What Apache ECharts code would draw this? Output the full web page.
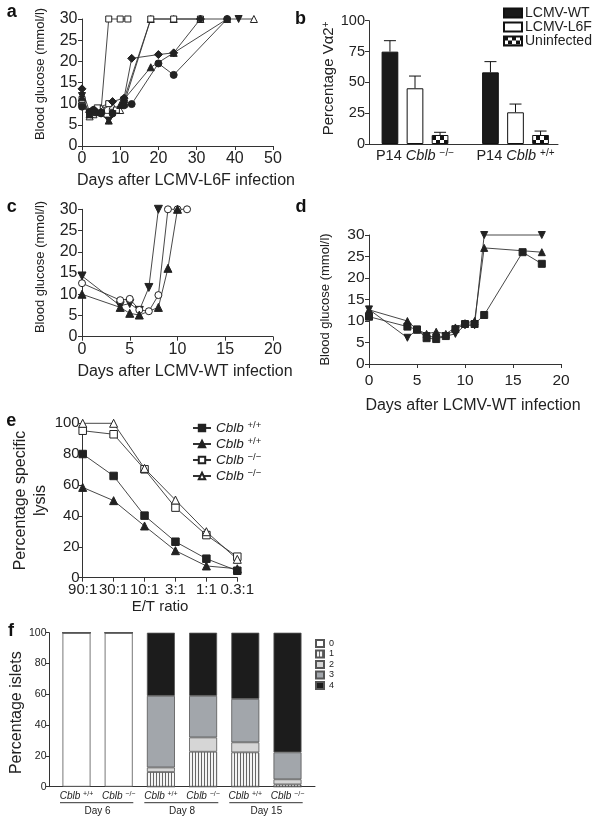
<!DOCTYPE html>
<html><head><meta charset="utf-8">
<script src="https://cdn.jsdelivr.net/npm/echarts/dist/echarts.min.js"></script>
<style>html,body{margin:0;padding:0;background:#fff}#c{width:600px;height:823px}</style>
</head><body><div id="c"></div>
<script>
// ---------- DATA ----------
// Panel a: blood glucose (mmol/l) vs days after LCMV-L6F infection, [day, value]
const aOpenSquareEarly = [[0,10],[2,7.5],[3,7.8],[5,8.5],[7,30],[10,30],[12,30]];
const aOpenTriangle    = [[0,10.5],[2,7],[3,7.5],[5,9],[8,9.5],[10,8.5],[11,10],[18,30],[24,30],[31,30],[45,30]];
const aOpenSquareLate  = [[0,11],[2,7.5],[4,9],[7,10],[9,8.5],[11,11],[18,30],[24,30],[31,30]];
const aFilledDiamond   = [[0,13.5],[2,8],[3,8.5],[5,8],[8,10.5],[11,11.3],[13,20.7],[20,21.6],[24,22],[31,30]];
const aFilledTriangle  = [[0,11.5],[2,7.5],[4,8],[7,6],[10,9.7],[11,11],[18,18.6],[24,22],[38,30]];
const aFilledCircle    = [[0,9.3],[2,8],[3,8.5],[5,7.7],[8,7.7],[11,9.6],[13,9.9],[20,19.5],[24,16.8],[38,30]];
const aFilledInvTri    = [[0,11.8],[2,7.5],[3,8],[5,7.7],[7,6],[8,7.5],[11,10],[12,'-'],[41,30]];

// Panel b: percentage Va2+
const bGenotypes = ['−/−', '+/+'];
const bWT      = [74.9, 58.1];
const bWTErr   = [8.9, 8.7];
const bL6F     = [45.2, 25.7];
const bL6FErr  = [9.9, 6.7];
const bUninf   = [7.3, 7.3];
const bUninfErr= [2.2, 3.2];

// Panel c: blood glucose vs days after LCMV-WT infection
const cFilledInvTri = [[0,14.3],[4,7.3],[5,7.8],[6,6.2],[7,11.6],[8,30]];
const cOpenCircle   = [[0,12.6],[4,8.6],[5,8.9],[6,6.3],[7,6],[8,9.8],[9,30],[10,30],[11,30]];
const cFilledTriangle = [[0,10],[4,6.9],[5,5.5],[6,5.1],[8,6.9],[9,16.1],[10,30]];

// Panel d
const dFilledInvTri = [[0,12.7],[4,6.1],[5,8],[6,6.5],[7,6.2],[8,6.5],[9,7],[10,9],[11,9],[12,30],[18,30]];
const dFilledTriangle = [[0,12.6],[4,10],[5,8],[6,7],[7,7.5],[8,7],[9,8.5],[10,9.5],[11,10],[12,27],[18,26]];
const dFilledSquare = [[0,11],[4,8.7],[5,8],[6,6],[7,5.8],[8,6.5],[9,8.1],[10,9.3],[11,9.3],[12,11.4],[16,26],[18,23.3]];

// Panel e: percentage specific lysis vs E/T ratio
const eRatios = ['90:1','30:1','10:1','3:1','1:1','0.3:1'];
const eWT1 = [80.1,65.9,40.2,23.3,12.3,4.5];
const eWT2 = [58.5,49.9,33.5,17.5,7.6,5.8];
const eKO1 = [95.2,92.9,70.2,45.4,27.6,13.6];
const eKO2 = [100,100,70.8,50.3,29.8,11.9];
const eGenotypes = {eWT1:'+/+', eWT2:'+/+', eKO1:'−/−', eKO2:'−/−'};

// Panel f: percentage islets by insulitis score
const fBars = ['d6wt','d6ko','d8wt','d8ko','d15wt','d15ko'];
const fGenotypes = ['+/+','−/−','+/+','−/−','+/+','−/−'];
const fDays = ['Day 6','Day 8','Day 15'];
const fScore0 = [100,100,0,0,0,0];
const fScore1 = [0,0,9.5,22.7,22.3,1.5];
const fScore2 = [0,0,3,9.3,6.5,3.3];
const fScore3 = [0,0,46.5,27,28.2,17.5];
const fScore4 = [0,0,41,41,43,77.7];

// ---------- STYLE ----------
const FONT = '"Liberation Sans", Arial, Helvetica, sans-serif';
const TXT = '#222';
const INK = '#222';

function pattern(w, h, draw){
  const cv = document.createElement('canvas'); cv.width = w; cv.height = h;
  const ctx = cv.getContext('2d'); draw(ctx);
  return {image: cv, repeat: 'repeat'};
}
const checker = pattern(8, 8, ctx => {
  ctx.fillStyle = '#fff'; ctx.fillRect(0,0,8,8);
  ctx.fillStyle = '#111'; ctx.fillRect(0,0,4,4); ctx.fillRect(4,4,4,4);
});
const stripes = pattern(3, 4, ctx => {
  ctx.fillStyle = '#f4f4f4'; ctx.fillRect(0,0,3,4);
  ctx.fillStyle = '#666'; ctx.fillRect(0,0,1,4);
});

function ax(o){
  const base = {
    axisLine:{show:true, onZero:false, lineStyle:{color:'#333', width:1}},
    axisTick:{show:true, inside:false, length:4, lineStyle:{color:'#333', width:1}},
    splitLine:{show:false},
    axisLabel:{color:TXT, fontFamily:FONT, fontSize:16, margin:5, hideOverlap:false},
    nameTextStyle:{color:TXT, fontFamily:FONT, fontSize:16},
  };
  for (const k in o){
    if (o[k] && typeof o[k]==='object' && !Array.isArray(o[k]) && base[k] && typeof base[k]==='object')
      base[k] = Object.assign({}, base[k], o[k]);
    else base[k] = o[k];
  }
  return base;
}

function ls(name, data, idx, symbol, filled, opts){
  opts = opts || {};
  return Object.assign({
    type:'line', name, data, xAxisIndex:idx, yAxisIndex:idx,
    symbol, symbolSize: opts.size || 7, symbolRotate: opts.rotate || 0,
    showAllSymbol:true, connectNulls:false,
    lineStyle:{color:'#333', width:0.9},
    itemStyle:{color: filled ? INK : '#fff', borderColor: INK, borderWidth:1},
    emphasis:{disabled:true}, animation:false, clip:false
  }, opts.extra || {});
}

const grids = [
  {left:82, top:19, width:191, height:127},          // 0 a
  {left:369, top:20.7, width:189, height:123.3},     // 1 b frame
  {left:364.75, top:20.7, width:201, height:123.3},  // 2 b bars
  {left:82, top:209.3, width:191, height:127.4},     // 3 c
  {left:369, top:235, width:192, height:129},        // 4 d
  {left:82.7, top:423.3, width:154.6, height:154.4}, // 5 e
  {left:49, top:632.7, width:266, height:154},       // 6 f frame
  {left:55.4, top:632.7, width:253.2, height:154},   // 7 f bars
].map(g => Object.assign({containLabel:false, outerBoundsMode:'none'}, g));

const hiddenY = (gi) => ({gridIndex:gi, type:'value', min:0, max:100, show:false});

const option = {
  animation:false,
  backgroundColor:'#fff',
  textStyle:{fontFamily:FONT},
  grid: grids,
  xAxis: [
    ax({gridIndex:0, type:'value', min:0, max:50, interval:10,
        name:'Days after LCMV-L6F infection', nameLocation:'middle', nameGap:27,
        nameTextStyle:{padding:[0,0,0,17]}}),
    ax({gridIndex:1, type:'value', min:0, max:1, axisTick:{show:false}, axisLabel:{show:false}}),
    ax({gridIndex:2, type:'category', data:bGenotypes, axisLine:{show:false}, axisTick:{show:false},
        axisLabel:{margin:4, fontSize:14.5, interval:0, formatter: g => '{n|P14 }{i|Cblb }{s|' + g + '}',
          rich:{n:{fontSize:14.5, fontFamily:FONT, color:TXT}, i:{fontSize:14.5, fontStyle:'italic', fontFamily:FONT, color:TXT},
                s:{fontSize:10, fontFamily:FONT, color:TXT, verticalAlign:'top', padding:[0,0,6,0]}}}}),
    ax({gridIndex:3, type:'value', min:0, max:20, interval:5,
        name:'Days after LCMV-WT infection', nameLocation:'middle', nameGap:27,
        nameTextStyle:{padding:[0,0,0,15]}}),
    ax({gridIndex:4, type:'value', min:0, max:20, interval:5, axisLabel:{fontSize:15.5, margin:9},
        name:'Days after LCMV-WT infection', nameLocation:'middle', nameGap:34,
        nameTextStyle:{padding:[0,0,0,16]}}),
    ax({gridIndex:5, type:'category', data:eRatios, boundaryGap:false, axisTick:{interval:0}, axisLabel:{fontSize:15, margin:5, interval:0},
        name:'E/T ratio', nameLocation:'middle', nameGap:22, nameTextStyle:{fontSize:15}}),
    ax({gridIndex:6, type:'value', min:0, max:1, axisTick:{show:false}, axisLabel:{show:false}}),
    ax({gridIndex:7, type:'category', data:fBars, axisLine:{show:false}, axisTick:{show:false},
        axisLabel:{margin:4, interval:0, formatter: (v, i) => '{i|Cblb }{s|' + fGenotypes[i] + '}',
          rich:{i:{fontSize:10, fontStyle:'italic', fontFamily:FONT, color:TXT},
                s:{fontSize:7, fontFamily:FONT, color:TXT, verticalAlign:'top', padding:[0,0,4,0]}}}}),
    ax({gridIndex:7, type:'category', data:fDays, position:'bottom', offset:17, axisLine:{show:false}, axisTick:{show:false},
        axisLabel:{margin:3, fontSize:10, interval:0}}),
  ],
  yAxis: [
    ax({gridIndex:0, type:'value', min:0, max:30, interval:5, axisLabel:{margin:4.5},
        name:'Blood glucose (mmol/l)', nameLocation:'middle', nameGap:35, nameTextStyle:{fontSize:13, padding:[0,0,0,17]}}),
    ax({gridIndex:1, type:'value', min:0, max:100, interval:25, axisLabel:{fontSize:14.5, margin:4},
        name:'{n|Percentage Vα2}{s|+}', nameLocation:'middle', nameGap:32,
        nameTextStyle:{padding:[0,0,0,8], rich:{n:{fontSize:15, fontFamily:FONT, color:TXT}, s:{fontSize:10, fontFamily:FONT, color:TXT, verticalAlign:'top', padding:[0,0,6,0]}}}}),
    hiddenY(2),
    ax({gridIndex:3, type:'value', min:0, max:30, interval:5, axisLabel:{margin:4.5},
        name:'Blood glucose (mmol/l)', nameLocation:'middle', nameGap:35, nameTextStyle:{fontSize:13, padding:[0,0,0,12]}}),
    ax({gridIndex:4, type:'value', min:0, max:30, interval:5, axisLabel:{fontSize:15.5, margin:4.5},
        name:'Blood glucose (mmol/l)', nameLocation:'middle', nameGap:37, nameTextStyle:{fontSize:13}}),
    ax({gridIndex:5, type:'value', min:0, max:100, interval:20, axisLabel:{fontSize:15, margin:3},
        name:'Percentage specific\nlysis', nameLocation:'middle', nameGap:26, nameTextStyle:{fontSize:16, lineHeight:20}}),
    ax({gridIndex:6, type:'value', min:0, max:100, interval:20, axisTick:{length:3}, axisLabel:{fontSize:10.5, margin:2.5},
        name:'Percentage islets', nameLocation:'middle', nameGap:24, nameTextStyle:{fontSize:16, padding:[0,6,0,0]}}),
    hiddenY(7),
  ],
  legend: [
    {data:['LCMV-WT','LCMV-L6F','Uninfected'], orient:'vertical', left:503, top:6, padding:0,
     itemWidth:18, itemHeight:9, itemGap:0, icon:'rect', selectedMode:false,
     textStyle:{fontSize:14, fontFamily:FONT, color:TXT, lineHeight:13.7, padding:[0,0,0,-2]}},
    {data:['eWT1','eWT2','eKO1','eKO2'], orient:'vertical', left:192, top:420, padding:0,
     itemWidth:18, itemHeight:8, itemGap:0, selectedMode:false,
     formatter: n => '{i|Cblb }{s|' + eGenotypes[n] + '}',
     textStyle:{fontFamily:FONT, color:TXT, lineHeight:16,
       rich:{i:{fontSize:13.5, fontStyle:'italic', fontFamily:FONT, color:TXT, lineHeight:16},
             s:{fontSize:9.5, fontFamily:FONT, color:TXT, verticalAlign:'top', padding:[0,0,6,0]}}}},
    {data:['0','1','2','3','4'], orient:'vertical', left:315, top:639, padding:0,
     itemWidth:8, itemHeight:7, itemGap:1.5, icon:'rect', selectedMode:false,
     textStyle:{fontSize:9, fontFamily:FONT, color:TXT, lineHeight:8}},
  ],
  series: [
    // a
    ls('aOpenSquareEarly', aOpenSquareEarly, 0, 'rect', false, {size:6}),
    ls('aOpenTriangle', aOpenTriangle, 0, 'triangle', false, {size:7}),
    ls('aOpenSquareLate', aOpenSquareLate, 0, 'rect', false, {size:6}),
    ls('aFilledDiamond', aFilledDiamond, 0, 'diamond', true, {size:8}),
    ls('aFilledTriangle', aFilledTriangle, 0, 'triangle', true, {size:7}),
    ls('aFilledCircle', aFilledCircle, 0, 'circle', true, {size:7}),
    ls('aFilledInvTri', aFilledInvTri, 0, 'triangle', true, {size:7, rotate:180}),
    // b bars
    {type:'bar', name:'LCMV-WT', data:bWT, xAxisIndex:2, yAxisIndex:2, barWidth:16.7, barGap:'50%',
     itemStyle:{color:'#1a1a1a', borderColor:'#111', borderWidth:1}, animation:false},
    {type:'bar', name:'LCMV-L6F', data:bL6F, xAxisIndex:2, yAxisIndex:2, barWidth:16.7, barGap:'50%',
     itemStyle:{color:'#fff', borderColor:'#111', borderWidth:1}, animation:false},
    {type:'bar', name:'Uninfected', data:bUninf, xAxisIndex:2, yAxisIndex:2, barWidth:16.7, barGap:'50%',
     itemStyle:{color:checker, borderColor:'#111', borderWidth:1}, animation:false},
    {type:'custom', name:'bErr', xAxisIndex:2, yAxisIndex:2, animation:false, z:1,
     data: [bWT, bL6F, bUninf].flatMap((vals, k) => vals.map((v, i) => [i, v, [bWTErr, bL6FErr, bUninfErr][k][i], k])),
     encode:{x:0, y:1},
     renderItem: (params, api) => {
       const cat = api.value(0), v = api.value(1), e = api.value(2), k = api.value(3);
       const base = api.coord([cat, v]); const top = api.coord([cat, v + e]);
       const x = base[0] + (k - 1) * 16.7 * 1.5;
       return {type:'group', children:[
         {type:'line', shape:{x1:x, y1:base[1], x2:x, y2:top[1]}, style:{stroke:'#111', lineWidth:1}},
         {type:'line', shape:{x1:x - 6, y1:top[1], x2:x + 6, y2:top[1]}, style:{stroke:'#111', lineWidth:1}}
       ]};
     }},
    // c
    ls('cFilledInvTri', cFilledInvTri, 3, 'triangle', true, {size:8, rotate:180}),
    ls('cOpenCircle', cOpenCircle, 3, 'circle', false, {size:7}),
    ls('cFilledTriangle', cFilledTriangle, 3, 'triangle', true, {size:8}),
    // d
    ls('dFilledInvTri', dFilledInvTri, 4, 'triangle', true, {size:7, rotate:180}),
    ls('dFilledTriangle', dFilledTriangle, 4, 'triangle', true, {size:7}),
    ls('dFilledSquare', dFilledSquare, 4, 'rect', true, {size:7}),
    // e
    ls('eWT1', eWT1, 5, 'rect', true, {size:7.5}),
    ls('eWT2', eWT2, 5, 'triangle', true, {size:8}),
    ls('eKO1', eKO1, 5, 'rect', false, {size:7.5}),
    ls('eKO2', eKO2, 5, 'triangle', false, {size:8}),
    // f stacked bars
    ...[[ '0', fScore0, '#ffffff'], ['1', fScore1, stripes], ['2', fScore2, '#d6d6d6'], ['3', fScore3, '#a2a6ab'], ['4', fScore4, '#1c1c1c']]
      .map(([n, d, c]) => ({type:'bar', name:n, data:d, stack:'f', xAxisIndex:7, yAxisIndex:7, barWidth:28,
        itemStyle:{color:c, borderColor:'#555', borderWidth:0.8}, animation:false})),
  ],
  graphic: [
    ...[['a',11.7,12.3],['b',300.5,19],['c',11.7,207.3],['d',301,207.3],['e',11.3,420.7],['f',11,630.7]].map(([t,x,y]) => ({
      type:'text', x, y, style:{text:t, font:'bold 18px ' + FONT, fill:'#111', align:'center', verticalAlign:'middle'}
    })),
    ...[[60,133.3],[144.3,218.3],[229.3,302.7]].map(([x1,x2]) => ({
      type:'line', shape:{x1, y1:802.7, x2, y2:802.7}, style:{stroke:'#333', lineWidth:1}
    })),
  ]
};

const chart = echarts.init(document.getElementById('c'), null, {renderer:'canvas'});
chart.setOption(option);
</script></body></html>
